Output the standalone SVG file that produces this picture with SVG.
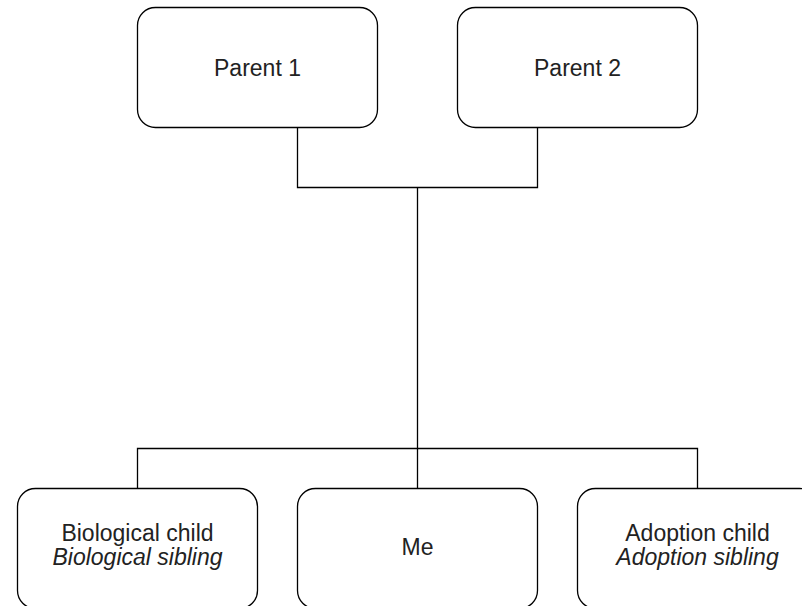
<svg xmlns="http://www.w3.org/2000/svg" width="802" height="606" viewBox="0 0 802 606">
  <style>
    .box { fill: #ffffff; stroke: #000000; stroke-width: 1.3; }
    .conn { fill: none; stroke: #000000; stroke-width: 1.3; }
    .lbl { font-family: "Liberation Sans", Arial, sans-serif; font-size: 23px; fill: #222222; text-anchor: middle; }
    .it { font-style: italic; }
  </style>
  <rect width="802" height="606" fill="#ffffff"/>
  <g id="connectors">
    <path class="conn" d="M297.5,127.5 V187.5 H537.5 V127.5"/>
    <path class="conn" d="M417.5,187.5 V488.5"/>
    <path class="conn" d="M137.5,488.5 V448.5 H697.5 V488.5"/>
  </g>
  <g id="parent1">
    <rect class="box" x="137.5" y="7.5" width="240" height="120" rx="18" ry="18"/>
    <text class="lbl" x="257.5" y="75.5">Parent 1</text>
  </g>
  <g id="parent2">
    <rect class="box" x="457.5" y="7.5" width="240" height="120" rx="18" ry="18"/>
    <text class="lbl" x="577.5" y="75.5">Parent 2</text>
  </g>
  <g id="biological">
    <rect class="box" x="17.5" y="488.5" width="240" height="120" rx="18" ry="18"/>
    <text class="lbl" x="137.5" y="540.5">Biological child</text>
    <text class="lbl it" x="137.5" y="565">Biological sibling</text>
  </g>
  <g id="me">
    <rect class="box" x="297.5" y="488.5" width="240" height="120" rx="18" ry="18"/>
    <text class="lbl" x="417.5" y="555">Me</text>
  </g>
  <g id="adoption">
    <rect class="box" x="577.5" y="488.5" width="240" height="120" rx="18" ry="18"/>
    <text class="lbl" x="697.5" y="540.5">Adoption child</text>
    <text class="lbl it" x="697.5" y="565">Adoption sibling</text>
  </g>
</svg>
